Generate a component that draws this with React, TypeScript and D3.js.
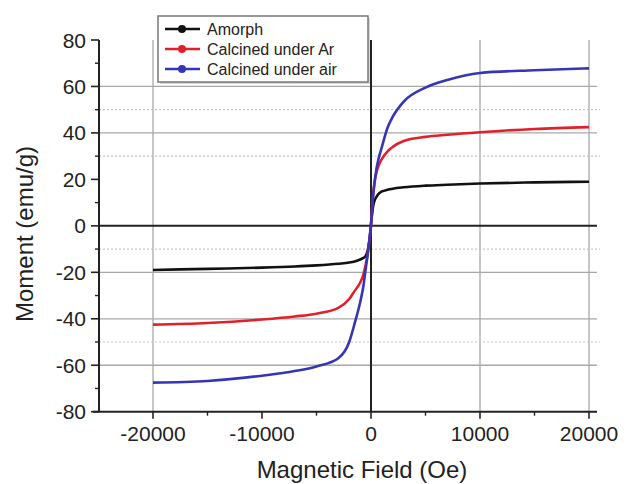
import React, { useEffect, useRef } from "react";
import * as d3 from "d3";

// field values (Oe)
const fields = [-20000, -15000, -10000, -7000, -5000, -3000, -2000, -1500, -1000, -700, -500, -300, -200, -100, 0,
  100, 200, 300, 500, 700, 1000, 1500, 2000, 3000, 5000, 7000, 10000, 15000, 20000];

const amorph = [-19, -18.5, -18, -17.5, -17, -16.3, -15.8, -15.3, -14.5, -13.8, -13, -10.5, -8, -4.5, 1,
  5, 8.5, 10.5, 12.5, 13.8, 14.8, 15.5, 16, 16.6, 17.3, 17.7, 18.2, 18.7, 19];
const underAr = [-42.5, -41.8, -40.3, -39, -37.8, -35.3, -31.5, -28, -24.5, -21, -17, -12, -8.5, -4.5, 0,
  8, 14, 18, 23, 26, 28.8, 32, 34, 36.5, 38.3, 39.2, 40.3, 41.7, 42.5];
const underAir = [-67.5, -66.8, -64.5, -62.5, -60.5, -57, -50, -42, -33, -26, -19, -12, -8, -4, 0,
  7, 13, 17.5, 24.5, 29, 34, 42, 47, 53.5, 59.5, 62.8, 65.8, 67, 67.8];

const seriesNames = ["Amorph", "Calcined under Ar", "Calcined under air"];
const seriesColors = ["#111111", "#e0202a", "#3535b5"];
const seriesValues = [amorph, underAr, underAir];

const xTicks = [-20000, -10000, 0, 10000, 20000];
const xMinor = [-15000, -5000, 5000, 15000];
const yTicks = [-80, -60, -40, -20, 0, 20, 40, 60, 80];
const yMinor = [-70, -50, -30, -10, 10, 30, 50, 70];
const solidGrid = [60, 40, -20, -40, -60];
const dottedGrid = [50, 30, -10, -50];
const vGrid = [-20000, 10000, 20000];

const App = () => {
  const ref = useRef(null);
  const W = 627, H = 484;
  const x = d3.scaleLinear().domain([-20000, 20000]).range([153, 589]);
  const y = d3.scaleLinear().domain([-80, 80]).range([411.7, 40]);
  const x0 = 99, x1 = 597;

  useEffect(() => {
    const svg = d3.select(ref.current);
    svg.selectAll("*").remove();
    const font = "Arial, 'Liberation Sans', sans-serif";

    // grid
    svg.selectAll("line.vg").data(vGrid).enter().append("line")
      .attr("x1", d => x(d)).attr("x2", d => x(d)).attr("y1", y(80)).attr("y2", y(-80))
      .attr("stroke", "#a8a8a8").attr("stroke-width", 1.3);
    svg.selectAll("line.hg").data(solidGrid).enter().append("line")
      .attr("x1", x0).attr("x2", x1).attr("y1", d => y(d)).attr("y2", d => y(d))
      .attr("stroke", "#a8a8a8").attr("stroke-width", 1.3);
    svg.selectAll("line.dg").data(dottedGrid).enter().append("line")
      .attr("x1", x0).attr("x2", x1 + 3).attr("y1", d => y(d)).attr("y2", d => y(d))
      .attr("stroke", "#c4c4c4").attr("stroke-width", 1.2).attr("stroke-dasharray", "2,2");

    // zero lines
    svg.append("line").attr("x1", x0).attr("x2", x1).attr("y1", y(0)).attr("y2", y(0))
      .attr("stroke", "#222").attr("stroke-width", 2);
    svg.append("line").attr("x1", x(0)).attr("x2", x(0)).attr("y1", y(80)).attr("y2", y(-80))
      .attr("stroke", "#222").attr("stroke-width", 2);

    // curves
    const line = d3.line<number>().x((d, i) => x(fields[i])).y(d => y(d)).curve(d3.curveMonotoneX);
    seriesValues.forEach((vals, k) => {
      svg.append("path").datum(vals).attr("d", line).attr("fill", "none")
        .attr("stroke", seriesColors[k]).attr("stroke-width", 2.6);
    });

    // axes
    svg.append("line").attr("x1", x0).attr("x2", x0).attr("y1", y(80)).attr("y2", y(-80))
      .attr("stroke", "#222").attr("stroke-width", 2);
    svg.append("line").attr("x1", 93).attr("x2", x1).attr("y1", y(-80)).attr("y2", y(-80))
      .attr("stroke", "#222").attr("stroke-width", 2);

    svg.selectAll("line.yt").data(yTicks).enter().append("line")
      .attr("x1", x0 - 8).attr("x2", x0).attr("y1", d => y(d)).attr("y2", d => y(d))
      .attr("stroke", "#222").attr("stroke-width", 1.6);
    svg.selectAll("line.ym").data(yMinor).enter().append("line")
      .attr("x1", x0 - 4).attr("x2", x0).attr("y1", d => y(d)).attr("y2", d => y(d))
      .attr("stroke", "#222").attr("stroke-width", 1.4);
    svg.selectAll("line.xt").data(xTicks).enter().append("line")
      .attr("x1", d => x(d)).attr("x2", d => x(d)).attr("y1", y(-80)).attr("y2", y(-80) + 7)
      .attr("stroke", "#222").attr("stroke-width", 1.6);
    svg.selectAll("line.xm").data(xMinor).enter().append("line")
      .attr("x1", d => x(d)).attr("x2", d => x(d)).attr("y1", y(-80)).attr("y2", y(-80) + 4)
      .attr("stroke", "#222").attr("stroke-width", 1.4);

    svg.selectAll("text.yl").data(yTicks).enter().append("text")
      .attr("x", x0 - 13).attr("y", d => y(d)).attr("dy", "0.36em")
      .attr("text-anchor", "end").style("font-family", font).style("font-size", "21px")
      .attr("fill", "#222").text(d => d);
    svg.selectAll("text.xl").data(xTicks).enter().append("text")
      .attr("x", d => x(d)).attr("y", 441)
      .attr("text-anchor", "middle").style("font-family", font).style("font-size", "21px")
      .attr("fill", "#222").text(d => d);

    svg.append("text").attr("x", 362).attr("y", 478).attr("text-anchor", "middle")
      .style("font-family", font).style("font-size", "24px").attr("fill", "#222")
      .text("Magnetic Field (Oe)");
    svg.append("text").attr("transform", "translate(33,234) rotate(-90)").attr("text-anchor", "middle")
      .style("font-family", font).style("font-size", "24px").attr("fill", "#222")
      .text("Moment (emu/g)");

    // legend
    const lg = svg.append("g");
    lg.append("rect").attr("x", 160).attr("y", 18).attr("width", 210).attr("height", 66)
      .attr("fill", "#d8d8d8");
    lg.append("rect").attr("x", 158).attr("y", 16).attr("width", 210).attr("height", 66)
      .attr("fill", "#fff").attr("stroke", "#777").attr("stroke-width", 1.5);
    seriesNames.forEach((name, k) => {
      const ly = 29 + k * 20;
      lg.append("line").attr("x1", 165).attr("x2", 200).attr("y1", ly).attr("y2", ly)
        .attr("stroke", seriesColors[k]).attr("stroke-width", 2.4);
      lg.append("circle").attr("cx", 182).attr("cy", ly).attr("r", 4).attr("fill", seriesColors[k]);
      lg.append("text").attr("x", 207).attr("y", ly).attr("dy", "0.35em")
        .style("font-family", font).style("font-size", "16px").attr("fill", "#222").text(name);
    });
  }, []);

  return (
    <svg ref={ref} width={W} height={H} style={{ position: "absolute", left: 0, top: 0, background: "#fff" }} />
  );
};

export default App;
